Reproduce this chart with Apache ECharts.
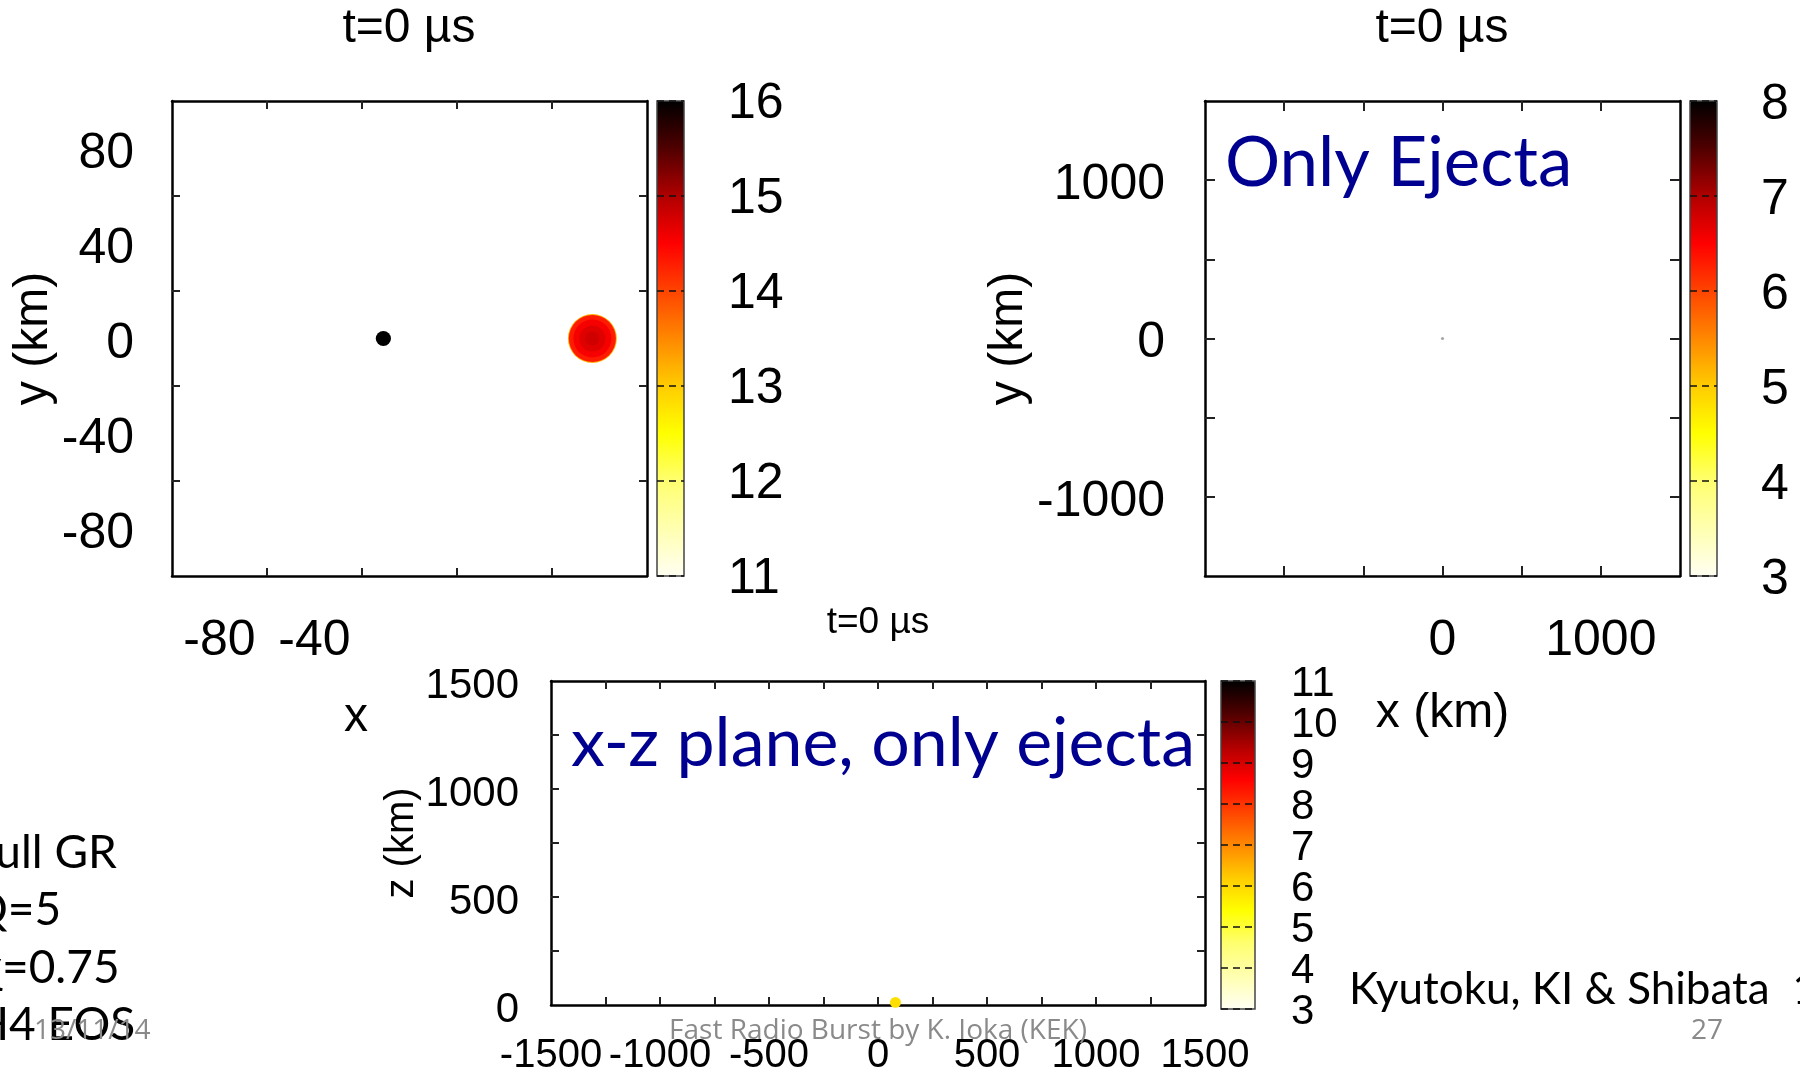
<!DOCTYPE html>
<html>
<head>
<meta charset="utf-8">
<title>t=0 µs snapshots</title>
<script src="https://cdn.jsdelivr.net/npm/echarts@6/dist/echarts.min.js"></script>
<style>
  html, body { margin: 0; padding: 0; background: #fff; }
  #chart { width: 1800px; height: 1076px; }
</style>
</head>
<body>
<div id="chart"></div>
<script>
// ---- data ----
// panel 1: x-y plane, BH + NS (log density colour scale 11..16)
const p1XRange = [-100, 100]
const p1YRange = [-100, 100]
const p1XLabels = [-80, -40]
const p1YLabels = [-80, -40, 0, 40, 80]
const p1Ticks = [-60, -20, 20, 60]
const p1Scale = [11, 16]
// [x km, y km, value, radius km]
const p1Blobs = [
  [-11, 0, 16, 3.2],
  [77, 0, 13.2, 10.3],
  [77, 0, 14.3, 9.9],
  [77, 0, 14.55, 8.0],
  [77, 0, 14.7, 5.5],
  [77, 0, 14.8, 3.0],
]

// panel 2: x-y plane, only ejecta (3..8)
const p2XRange = [-1500, 1500]
const p2YRange = [-1500, 1500]
const p2XLabels = [0, 1000]
const p2YLabels = [-1000, 0, 1000]
const p2Ticks = [-1000, -500, 0, 500, 1000]
const p2Scale = [3, 8]
const p2Blobs = [[0, 0, 8, 10]]

// panel 3: x-z plane, only ejecta (3..11)
const p3XRange = [-1500, 1500]
const p3YRange = [0, 1500]
const p3XLabels = [-1500, -1000, -500, 0, 500, 1000, 1500]
const p3YLabels = [0, 500, 1000, 1500]
const p3XTicks = [-1250, -1000, -750, -500, -250, 0, 250, 500, 750, 1000, 1250]
const p3YTicks = [250, 500, 750, 1000, 1250]
const p3Scale = [3, 11]
const p3Blobs = [[80, 12, 5.9, 25]]

// gnuplot-like "hot" palette, low -> high
const hot = ['#fffff2', '#ffffb0', '#ffff70', '#ffff00', '#ffcc00', '#ff8800',
             '#ff4400', '#ff0000', '#b00000', '#500000', '#000000']

const plotFont = 'Liberation Sans'
const slideFont = 'Lato'

const grids = []
const xAxes = []
const yAxes = []
const series = []
const visualMaps = []

function addPanel(p) {
    const g = grids.length
    grids.push({ left: p.box[0], top: p.box[1], width: p.box[2], height: p.box[3], show: false })
    grids.push({
        left: p.bar[0], top: p.bar[1], width: p.bar[2], height: p.bar[3],
        show: true, borderColor: '#444', borderWidth: 1.5, backgroundColor: 'transparent', z: 8
    })

    const line = { show: true, onZero: false, lineStyle: { color: '#000', width: 2.5 } }
    const tick = vals => ({ show: true, inside: true, length: p.tickLen, customValues: vals,
        lineStyle: { color: '#222', width: 2 } })
    const label = {
        fontFamily: plotFont, fontSize: p.fontSize, color: '#000', hideOverlap: false,
        showMinLabel: true, showMaxLabel: true, formatter: v => String(v),
    }
    // a short line box with top alignment nudges the digits down like gnuplot's
    const nudge = px => ({ verticalAlign: 'top', lineHeight: 2 * px })
    const nameStyle = { fontFamily: plotFont, fontSize: p.nameSize, color: '#000' }

    const xi = xAxes.length
    xAxes.push({
        type: 'value', gridIndex: g, min: p.xr[0], max: p.xr[1], position: 'bottom',
        axisLine: line, axisTick: tick(p.xTicks), splitLine: { show: false },
        axisLabel: Object.assign({ customValues: p.xLabels, margin: p.xMargin }, label, { fontSize: p.xFontSize || p.fontSize }),
        name: p.xName, nameLocation: 'middle', nameGap: p.xNameGap, nameTextStyle: nameStyle,
    })
    xAxes.push({
        type: 'value', gridIndex: g, min: p.xr[0], max: p.xr[1], position: 'top',
        axisLine: line, axisTick: tick(p.xTicks), axisLabel: { show: false }, splitLine: { show: false },
    })
    xAxes.push({ type: 'value', gridIndex: g + 1, min: 0, max: 1, show: false })

    const yi = yAxes.length
    yAxes.push({
        type: 'value', gridIndex: g, min: p.yr[0], max: p.yr[1], position: 'left',
        axisLine: line, axisTick: tick(p.yTicks), splitLine: { show: false },
        axisLabel: Object.assign({ customValues: p.yLabels, margin: p.yMargin }, label, nudge(p.yShift)),
        name: p.yName, nameLocation: 'middle', nameGap: p.yNameGap, nameTextStyle: nameStyle,
    })
    yAxes.push({
        type: 'value', gridIndex: g, min: p.yr[0], max: p.yr[1], position: 'right',
        axisLine: line, axisTick: tick(p.yTicks), axisLabel: { show: false }, splitLine: { show: false },
    })

    // colour bar: labels split over two stacked axes (odd / even steps) so the
    // tightly packed numbers of the 3..11 bar are all kept
    const steps = [[], []]
    for (let v = p.scale[0]; v <= p.scale[1]; v++) steps[(v - p.scale[0]) % 2].push(v)
    steps.forEach((vals, k) => {
        yAxes.push({
            type: 'value', gridIndex: g + 1, min: p.scale[0], max: p.scale[1], interval: 1, position: 'right',
            axisLine: { show: false }, axisTick: { show: false }, z: 9,
            axisLabel: Object.assign({}, label, { customValues: vals, margin: p.barMargin, fontSize: p.barFontSize }, nudge(p.barShift)),
            splitLine: { show: k === 0, lineStyle: { color: '#111', width: 1.5, type: [7, 5] } },
        })
    })

    const pxPerUnit = p.box[2] / (p.xr[1] - p.xr[0])
    series.push({
        type: 'scatter', xAxisIndex: xi, yAxisIndex: yi, silent: true,
        symbol: 'circle', symbolSize: d => 2 * d[3] * pxPerUnit,
        itemStyle: { opacity: p.opacity || 1 },
        data: p.points,
    })
    visualMaps.push({
        type: 'continuous', seriesIndex: series.length - 1, dimension: 2,
        min: p.scale[0], max: p.scale[1], calculable: false, hoverLink: false,
        left: p.bar[0], top: p.bar[1], itemWidth: p.bar[2], itemHeight: p.bar[3], padding: 0,
        inRange: { color: hot },
    })
}

addPanel({
    box: [172, 101, 475, 475], bar: [657, 101, 27, 475],
    xr: p1XRange, yr: p1YRange, xLabels: p1XLabels, yLabels: p1YLabels,
    xTicks: p1Ticks, yTicks: p1Ticks, scale: p1Scale, points: p1Blobs,
    tickLen: 8, fontSize: 50, barFontSize: 50, nameSize: 48,
    xMargin: 40, yMargin: 38, barMargin: 44, yShift: 6, barShift: 3,
    xName: '', xNameGap: 116, yName: 'y (km)', yNameGap: 108,
})
addPanel({
    box: [1205, 101, 475, 475], bar: [1690, 101, 27, 475],
    xr: p2XRange, yr: p2YRange, xLabels: p2XLabels, yLabels: p2YLabels,
    xTicks: p2Ticks, yTicks: p2Ticks, scale: p2Scale, points: p2Blobs, opacity: 0.35,
    tickLen: 10, fontSize: 50, barFontSize: 50, nameSize: 48,
    xMargin: 40, yMargin: 40, barMargin: 44, yShift: 5, barShift: 4,
    xName: 'x (km)', xNameGap: 114, yName: 'y (km)', yNameGap: 157,
})
addPanel({
    box: [551, 681, 654, 328], bar: [1221, 681, 34, 328],
    xr: p3XRange, yr: p3YRange, xLabels: p3XLabels, yLabels: p3YLabels,
    xTicks: p3XTicks, yTicks: p3YTicks, scale: p3Scale, points: p3Blobs,
    tickLen: 8, fontSize: 42, xFontSize: 40, barFontSize: 42, nameSize: 40,
    xMargin: 31, yMargin: 32, barMargin: 36, yShift: 5, barShift: 3,
    xName: '', xNameGap: 60, yName: 'z (km)', yNameGap: 126,
})

const titleStyle = size => ({ fontFamily: plotFont, fontSize: size, fontWeight: 'normal', color: '#000' })

const chart = echarts.init(document.getElementById('chart'))
chart.setOption({
    backgroundColor: '#fff',
    animation: false,
    title: [
        { text: 't=0 µs', left: 409, top: 5, padding: 0, textAlign: 'center', textStyle: titleStyle(48) },
        { text: 't=0 µs', left: 1442, top: 5, padding: 0, textAlign: 'center', textStyle: titleStyle(48) },
        { text: 't=0 µs', left: 878, top: 604, padding: 0, textAlign: 'center', textStyle: titleStyle(37) },
    ],
    grid: grids,
    xAxis: xAxes,
    yAxis: yAxes,
    visualMap: visualMaps,
    series: series,
    graphic: [
        { type: 'text', x: 356, y: 718, z: 10, style: { text: 'x', font: '48px "Liberation Sans"', fill: '#000', align: 'center', verticalAlign: 'middle' } },
        { type: 'text', x: 1225, y: 164, z: 10, style: { text: 'Only Ejecta', font: '69px ' + slideFont, fill: '#000090', verticalAlign: 'middle' } },
        { type: 'text', x: 571, y: 744, z: 10, style: { text: 'x-z plane, only ejecta', font: '68px ' + slideFont, fill: '#000090', verticalAlign: 'middle' } },
        { type: 'text', x: -29, y: 853, z: 10, style: { text: 'Full GR', font: '46px ' + slideFont, fill: '#000', verticalAlign: 'middle' } },
        { type: 'text', x: -29, y: 910, z: 10, style: { text: 'Q=5', font: '46px ' + slideFont, fill: '#000', verticalAlign: 'middle' } },
        { type: 'text', x: -20, y: 968, z: 10, style: { text: 'χ=0.75', font: '46px ' + slideFont, fill: '#000', verticalAlign: 'middle' } },
        { type: 'text', x: -26, y: 1025, z: 10, style: { text: 'H4 EOS', font: '46px ' + slideFont, fill: '#000', verticalAlign: 'middle' } },
        { type: 'text', x: 1349, y: 990, z: 10, style: { text: 'Kyutoku, KI & Shibata  14', font: '44px ' + slideFont, fill: '#000', verticalAlign: 'middle' } },
        { type: 'text', x: 34, y: 1031, z: 11, style: { text: '13/11/14', font: '28px "Open Sans"', fill: '#8a8a8a', verticalAlign: 'middle' } },
        { type: 'text', x: 878, y: 1031, z: 11, style: { text: 'Fast Radio Burst by K. Ioka (KEK)', font: '28px "Open Sans"', fill: '#8a8a8a', align: 'center', verticalAlign: 'middle' } },
        { type: 'text', x: 1707, y: 1031, z: 11, style: { text: '27', font: '28px "Open Sans"', fill: '#8a8a8a', align: 'center', verticalAlign: 'middle' } },
    ],
})
</script>
</body>
</html>
